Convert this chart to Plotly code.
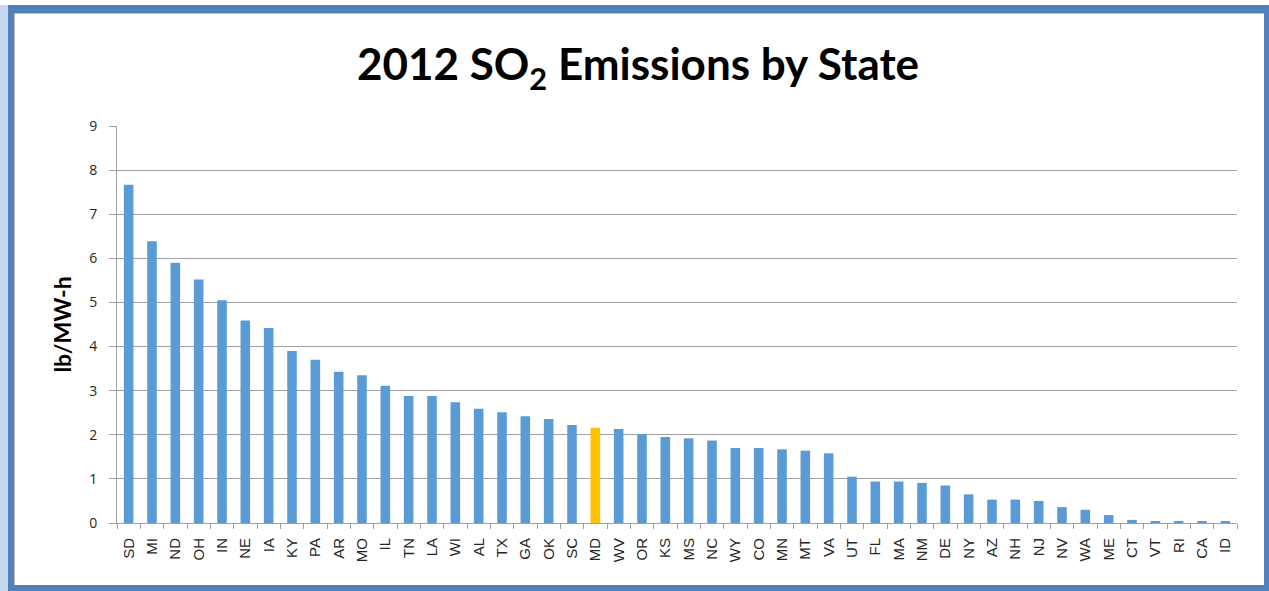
import plotly.graph_objects as go

states = ["SD", "MI", "ND", "OH", "IN", "NE", "IA", "KY", "PA", "AR", "MO", "IL",
          "TN", "LA", "WI", "AL", "TX", "GA", "OK", "SC", "MD", "WV", "OR", "KS",
          "MS", "NC", "WY", "CO", "MN", "MT", "VA", "UT", "FL", "MA", "NM", "DE",
          "NY", "AZ", "NH", "NJ", "NV", "WA", "ME", "CT", "VT", "RI", "CA", "ID"]
so2_lb_per_mwh = [7.67, 6.39, 5.90, 5.52, 5.05, 4.59, 4.42, 3.90, 3.70, 3.43, 3.35, 3.11,
                  2.88, 2.88, 2.74, 2.59, 2.51, 2.42, 2.36, 2.22, 2.16, 2.13, 2.01, 1.95,
                  1.92, 1.87, 1.70, 1.70, 1.67, 1.64, 1.58, 1.05, 0.94, 0.94, 0.91, 0.85,
                  0.65, 0.53, 0.53, 0.50, 0.36, 0.30, 0.18, 0.07, 0.04, 0.04, 0.04, 0.04]
highlight = "MD"

W, H = 1269, 591
L, R, T, B = 117, 1237, 126, 523  # plot area in pixels

def px(x):
    return (x - L) / (R - L)

def py(y):
    return (B - y) / (B - T)

colors = ["#FFC000" if s == highlight else "#5B9BD5" for s in states]

fig = go.Figure(go.Bar(x=states, y=so2_lb_per_mwh, marker_color=colors,
                       marker_line_width=0, width=0.41))

# window-like frame around the chart
frame = [
    dict(x0=px(0), x1=px(8), y0=py(5), y1=py(H), fill="#C6D9F0"),
    dict(x0=px(8), x1=px(W), y0=py(5), y1=py(H), fill="#4F81BD"),
    dict(x0=px(14), x1=px(1264), y0=py(13), y1=py(585), fill="#BFBFBF"),
    dict(x0=px(15), x1=px(1264), y0=py(14), y1=py(585), fill="white"),
]
shapes = [dict(type="rect", xref="paper", yref="paper", layer="below", line_width=0,
               x0=f["x0"], x1=f["x1"], y0=f["y0"], y1=f["y1"], fillcolor=f["fill"])
          for f in frame]

fig.update_layout(
    width=W, height=H,
    margin=dict(l=L, r=W - R, t=T, b=H - B),
    paper_bgcolor="white",
    plot_bgcolor="rgba(0,0,0,0)",
    shapes=shapes,
    showlegend=False,
    title=dict(text="<b>2012 SO<sub>2</sub> Emissions by State</b>",
               x=638 / W, xref="container", xanchor="center", y=1 - 65 / H, yanchor="middle",
               font=dict(family="Lato, Open Sans, sans-serif", size=44, color="black")),
    font=dict(family="Liberation Sans, Arial, sans-serif", size=14, color="#262626"),
)
fig.update_yaxes(
    range=[0, 9], dtick=1, tickformat="d",
    showgrid=True, gridcolor="#A0A0A0", gridwidth=1,
    showline=True, linecolor="#A0A0A0", linewidth=1,
    ticks="outside", ticklen=7, tickcolor="#A0A0A0", ticklabelstandoff=9,
    tickfont=dict(family="Open Sans, sans-serif", size=14, color="#262626"),
    zeroline=False,
    title=dict(text="<b>lb/MW-h</b>", standoff=11,
               font=dict(family="Lato, Open Sans, sans-serif", size=23, color="black")),
)
fig.update_xaxes(
    tickangle=-90, tickfont=dict(size=15),
    showline=True, linecolor="#A0A0A0", linewidth=1,
    ticks="outside", ticklen=5, tickcolor="#A0A0A0", tickson="boundaries",
    ticklabelstandoff=8,
    range=[-0.5, len(states) - 0.5],
)

fig.write_html("out.html", config={"displayModeBar": False},
               post_script="document.body.style.margin='0';")
